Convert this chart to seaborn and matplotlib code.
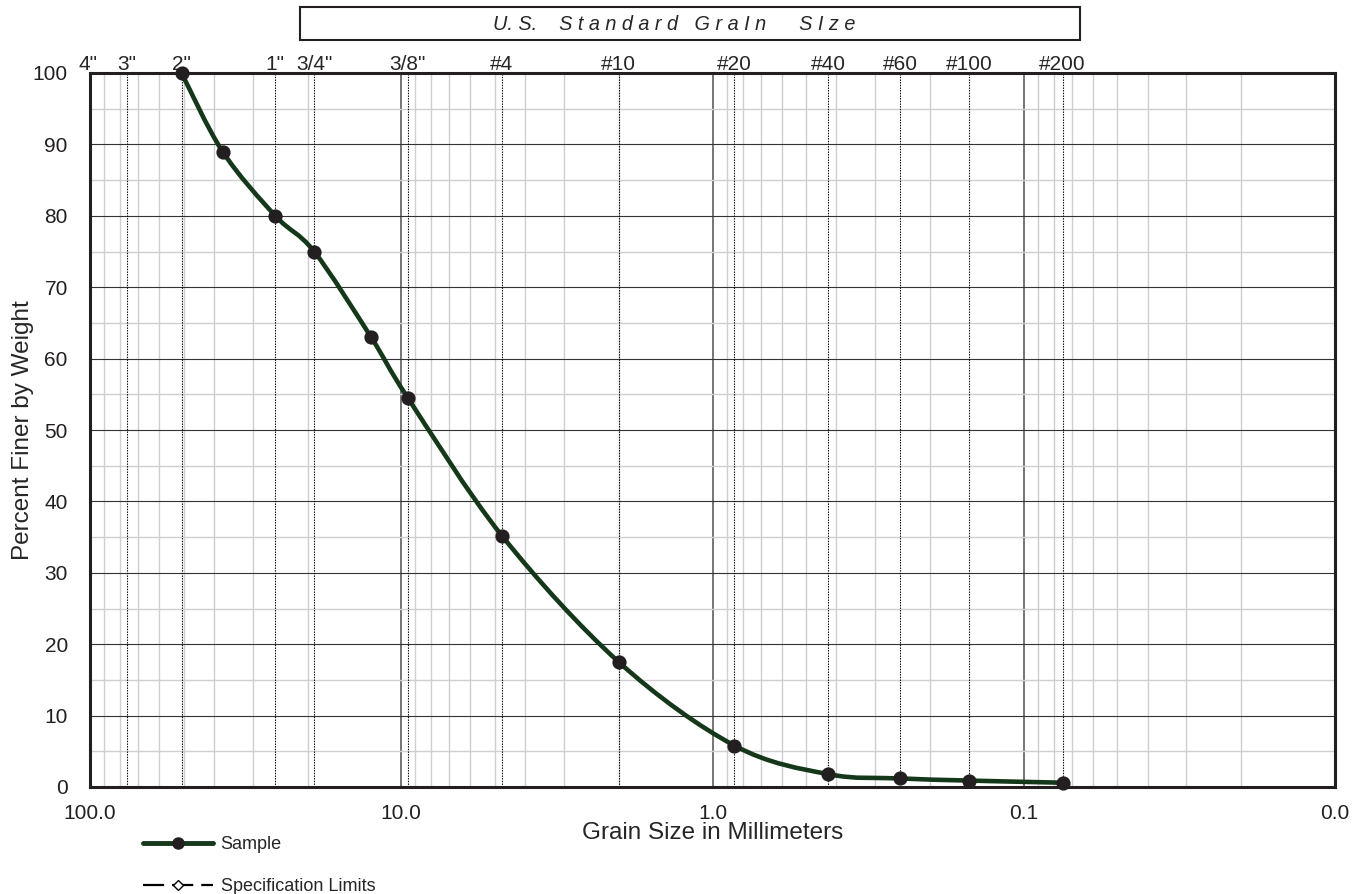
import numpy as np
import matplotlib
matplotlib.use("Agg")
import matplotlib.pyplot as plt
from matplotlib.path import Path
from matplotlib.patches import PathPatch, Rectangle
from matplotlib.lines import Line2D
from matplotlib.ticker import LogLocator, FixedLocator, FuncFormatter, NullFormatter
import seaborn as sns
import pandas as pd

# sieve sizes shown on top of the chart
sieve_labels = ['4"', '3"', '2"', '1"', '3/4"', '3/8"', '#4', '#10', '#20', '#40', '#60', '#100', '#200']
sieve_mm = [101.6, 76.2, 50.8, 25.4, 19.05, 9.525, 4.75, 2.0, 0.85, 0.425, 0.25, 0.15, 0.075]

# sample gradation
sample_mm = [50.8, 37.5, 25.4, 19.05, 12.5, 9.525, 4.75, 2.0, 0.85, 0.425, 0.25, 0.15, 0.075]
sample_pct = [100, 89, 80, 75, 63, 54.5, 35.2, 17.5, 5.8, 1.8, 1.2, 0.9, 0.6]

y_ticks = list(range(0, 101, 10))
x_ticks = [100, 10, 1, 0.1, 0.01]

LINE_GREEN = '#15381a'
DOT = '#231f20'

sns.set_style('white')
plt.rcParams['font.family'] = ['Liberation Sans', 'DejaVu Sans']

fig = plt.figure(figsize=(13.71, 8.94), dpi=100)
ax = fig.add_axes([90 / 1371, 1 - 787 / 894, 1245 / 1371, 714 / 894])

ax.set_xscale('log')
ax.set_xlim(100, 0.01)
ax.set_ylim(0, 100)

# grid
ax.xaxis.set_major_locator(FixedLocator(x_ticks))
ax.xaxis.set_minor_locator(LogLocator(base=10, subs=np.arange(2, 10)))
ax.xaxis.set_minor_formatter(NullFormatter())
ax.xaxis.set_major_formatter(FuncFormatter(lambda v, p: '%.1f' % v))
ax.yaxis.set_major_locator(FixedLocator(y_ticks))
ax.yaxis.set_minor_locator(FixedLocator(list(range(5, 100, 10))))

ax.grid(which='minor', axis='both', color='#cfcfcf', lw=1.0, zorder=0)
ax.grid(which='major', axis='y', color='#333333', lw=0.8, zorder=0)
ax.grid(which='major', axis='x', color='#6a6a6a', lw=1.3, zorder=0)
ax.set_axisbelow(True)

# sieve lines + labels
for lab, mm in zip(sieve_labels, sieve_mm):
    if 0.01 < mm < 100:
        ax.axvline(mm, color='black', lw=0.8, ls=(0, (1.2, 1.2)), zorder=1)
    ax.text(mm, 99.8, lab, ha='center', va='bottom', fontsize=15, clip_on=False)

# smooth curve through the sample points (Catmull-Rom in log-x display space)
u = np.log10(sample_mm)
v = np.array(sample_pct, dtype=float)
n = len(u)
verts = [(10 ** u[0], v[0])]
codes = [Path.MOVETO]
for i in range(n - 1):
    i0 = max(i - 1, 0)
    i3 = min(i + 2, n - 1)
    c1 = (u[i] + (u[i + 1] - u[i0]) / 6, v[i] + (v[i + 1] - v[i0]) / 6)
    c2 = (u[i + 1] - (u[i3] - u[i]) / 6, v[i + 1] - (v[i3] - v[i]) / 6)
    verts += [(10 ** c1[0], c1[1]), (10 ** c2[0], c2[1]), (10 ** u[i + 1], v[i + 1])]
    codes += [Path.CURVE4] * 3
ax.add_patch(PathPatch(Path(verts, codes), fill=False, ec=LINE_GREEN, lw=3.3,
                       zorder=3, capstyle='round', joinstyle='round'))

df = pd.DataFrame({'mm': sample_mm, 'pct': sample_pct})
sns.scatterplot(data=df, x='mm', y='pct', ax=ax, s=105, color=DOT,
                edgecolor=DOT, linewidth=0, zorder=4, clip_on=False, legend=False)

ax.set_xlim(100, 0.01)
ax.set_ylim(0, 100)

for s in ax.spines.values():
    s.set_linewidth(2.2)
    s.set_color('#231f20')

ax.tick_params(axis='both', which='major', direction='inout', length=12, width=1.6,
               labelsize=15, colors='#231f20')
ax.tick_params(axis='both', which='minor', length=0)
ax.tick_params(axis='y', which='major', pad=10)
ax.tick_params(axis='x', which='major', pad=6.5)

ax.set_xlabel('Grain Size in Millimeters', fontsize=17.5, labelpad=-1)
ax.set_ylabel('Percent Finer by Weight', fontsize=17.5, labelpad=-1)

# title box
fig.add_artist(Rectangle((300 / 1371, 1 - 40 / 894), 780 / 1371, 33 / 894,
                         transform=fig.transFigure, fill=False, ec='#231f20', lw=1.5))
fig.text(493 / 1371, 1 - 24 / 894, 'U. S.    S t a n d a r d   G r a I n      S I z e',
         fontsize=14.3, style='italic', ha='left', va='center')

# legend
handles = [
    Line2D([], [], color=LINE_GREEN, lw=3.5, marker='o', markersize=8,
           markerfacecolor=DOT, markeredgecolor=DOT),
    Line2D([], [], color='black', lw=1.6, ls=(0, (9.5, 3.6)), marker='D', markersize=5,
           markerfacecolor='white', markeredgecolor='black'),
]
fig.legend(handles, ['Sample', 'Specification Limits'], loc='upper left',
           bbox_to_anchor=(143 / 1371, 1 - 836 / 894), frameon=False, fontsize=13,
           handlelength=3.9, handletextpad=0.4, labelspacing=1.4,
           borderpad=0, borderaxespad=0)

fig.savefig('out.png', dpi=100)
